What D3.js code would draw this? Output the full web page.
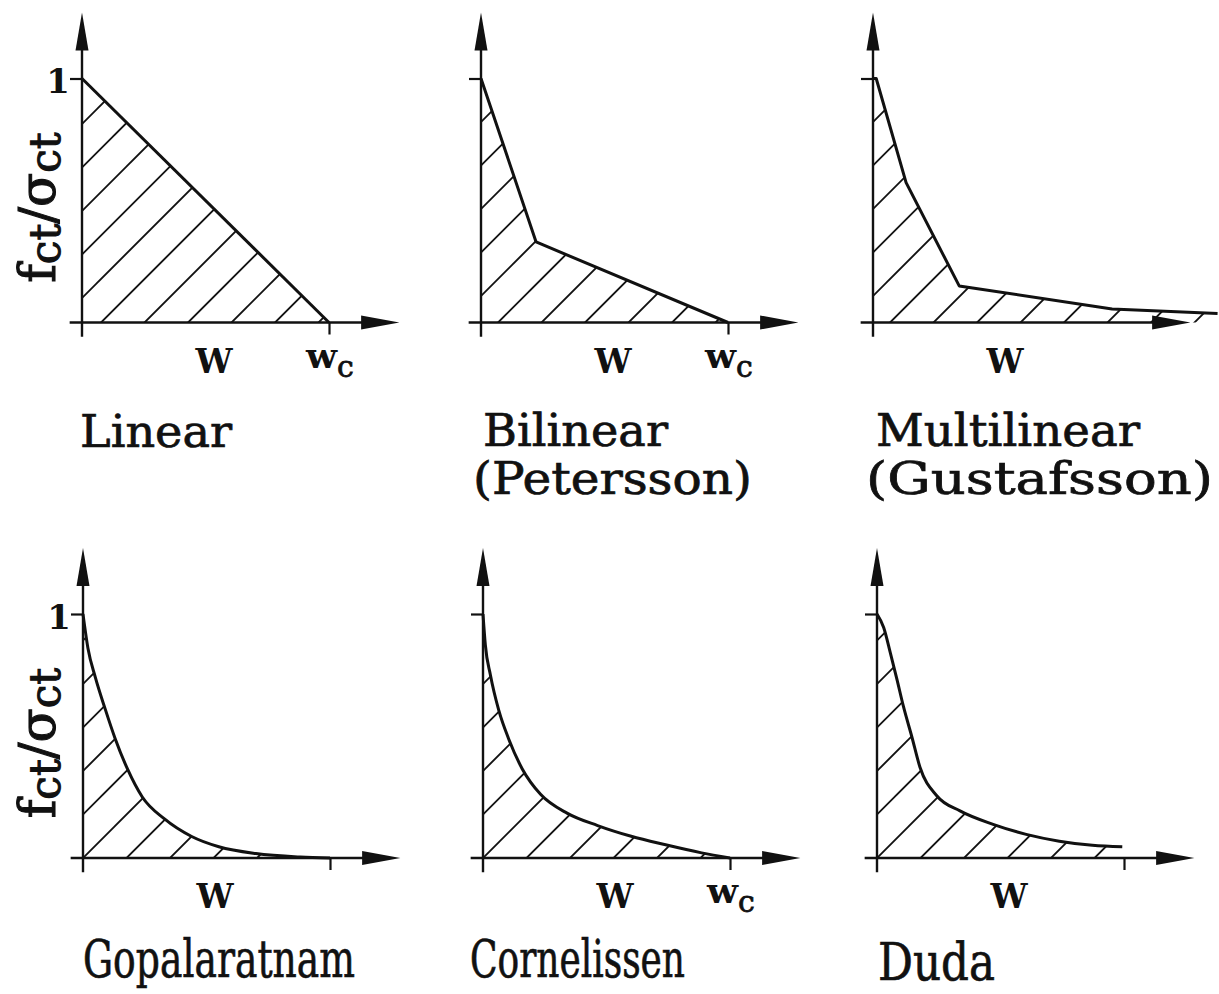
<!DOCTYPE html>
<html>
<head>
<meta charset="utf-8">
<script src="https://cdn.jsdelivr.net/npm/d3@7"></script>
<style>
  body { margin: 0; background: #fff; }
  svg { display: block; }
  text { font-family: "DejaVu Serif", "Liberation Serif", serif; fill: #111; }
</style>
</head>
<body>
<svg id="chart" width="1219" height="994"></svg>
<script>
// softening curves, w in units of wc, f in units of fct/sigma_ct
const linearW = [0, 1];
const linearF = [1, 0];

const bilinearW = [0, 0.223, 1];
const bilinearF = [1, 0.33, 0];

const multiW = [0, 0.013, 0.134, 0.349, 0.968, 1.395];
const multiF = [1, 1, 0.573, 0.150, 0.055, 0.037];

const gopalW = [0, 0.02, 0.05, 0.09, 0.13, 0.18, 0.24, 0.33, 0.44, 0.55, 0.70, 0.88, 1.0];
const gopalF = [1, 0.86, 0.74, 0.61, 0.49, 0.365, 0.25, 0.16, 0.088, 0.046, 0.018, 0.004, 0];

const cornW = [0, 0.0095, 0.030, 0.064, 0.104, 0.159, 0.233, 0.342, 0.464, 0.600, 0.735, 0.885, 1.0];
const cornF = [1, 0.873, 0.750, 0.605, 0.488, 0.365, 0.261, 0.183, 0.133, 0.089, 0.055, 0.021, 0];

const dudaW = [0, 0.027, 0.054, 0.081, 0.107, 0.141, 0.174, 0.242, 0.336, 0.470, 0.604, 0.738, 0.872, 0.993];
const dudaF = [1, 0.945, 0.841, 0.731, 0.621, 0.497, 0.372, 0.255, 0.193, 0.138, 0.097, 0.069, 0.052, 0.046];

const titleLines = [
    ["Linear"],
    ["Bilinear", "(Petersson)"],
    ["Multilinear", "(Gustafsson)"],
    ["Gopalaratnam"],
    ["Cornelissen"],
    ["Duda"]
];

const seriesW = [linearW, bilinearW, multiW, gopalW, cornW, dudaW];
const seriesF = [linearF, bilinearF, multiF, gopalF, cornF, dudaF];
const smooth = [false, false, false, true, true, true];

// where each panel sits on the page
const layout = [
    { x0: 82,  y0: 322.5, hatch: 19, one: true,  wcTick: true,  wcLabel: true,  tx: [80],       ty: [447],      tw: [152],      fs: 44 },
    { x0: 481, y0: 322.5, hatch: 17, one: false, wcTick: true,  wcLabel: true,  tx: [483, 473], ty: [446, 494], tw: [185, 279], fs: 44 },
    { x0: 873, y0: 322.5, hatch: 17, one: false, wcTick: false, wcLabel: false, tx: [876, 866], ty: [446, 494], tw: [264, 347], fs: 44 },
    { x0: 83,  y0: 858,   hatch: 0,  one: true,  wcTick: true,  wcLabel: false, tx: [83],       ty: [977],      tw: [272],      fs: 52 },
    { x0: 483, y0: 858,   hatch: 0,  one: false, wcTick: true,  wcLabel: true,  tx: [470],      ty: [977],      tw: [215],      fs: 52 },
    { x0: 877, y0: 858,   hatch: 0,  one: false, wcTick: true,  wcLabel: false, tx: [878],      ty: [980],      tw: [117],      fs: 52 }
];

const unitX = 247;
const unitY = 244;
const hatchStep = 43.5;

const svg = d3.select("#chart");
const defs = svg.append("defs");

layout.forEach((p, i) => {
    const x = d3.scaleLinear().domain([0, 1]).range([p.x0, p.x0 + unitX]);
    const y = d3.scaleLinear().domain([0, 1]).range([p.y0, p.y0 - unitY]);
    const g = svg.append("g");

    const pts = seriesW[i].map((w, j) => [w, seriesF[i][j]]);
    const curve = smooth[i] ? d3.curveMonotoneX : d3.curveLinear;

    // area used to clip the hatching
    const area = d3.area()
        .x(d => x(d[0]))
        .y0(y(0))
        .y1(d => y(d[1]))
        .curve(curve);

    const clipId = "clip-" + i;
    defs.append("clipPath").attr("id", clipId)
        .append("path").attr("d", area(pts));

    const hatch = g.append("g").attr("clip-path", `url(#${clipId})`);
    for (let k = -12; k <= 12; k++) {
        const c = p.x0 + p.hatch + k * hatchStep;
        hatch.append("line")
            .attr("x1", c - 450).attr("y1", p.y0 + 450)
            .attr("x2", c + 450).attr("y2", p.y0 - 450)
            .attr("stroke", "#111")
            .attr("stroke-width", 1.9);
    }

    // axis lines
    g.append("line")
        .attr("x1", x(0)).attr("y1", y(-0.058))
        .attr("x2", x(0)).attr("y2", y(1.2))
        .attr("stroke", "#111").attr("stroke-width", 2.4);
    g.append("line")
        .attr("x1", x(-0.05)).attr("y1", y(0))
        .attr("x2", x(1.24)).attr("y2", y(0))
        .attr("stroke", "#111").attr("stroke-width", 2.4);

    // arrow heads
    const tipY = y(1.27), baseY = y(1.115);
    g.append("path")
        .attr("d", `M${x(0)},${tipY} L${x(0) + 6.5},${baseY} L${x(0) - 6.5},${baseY} Z`)
        .attr("fill", "#111");
    const tipX = x(1.285), baseX = x(1.13);
    g.append("path")
        .attr("d", `M${tipX},${y(0)} L${baseX},${y(0) - 7} L${baseX},${y(0) + 7} Z`)
        .attr("fill", "#111");

    // tick at 1 on the y axis
    const yAxis = g.append("g")
        .attr("transform", `translate(${x(0)},0)`)
        .call(d3.axisLeft(y).tickValues([1]).tickSize(12).tickPadding(0)
            .tickFormat(d => p.one ? d : ""));
    yAxis.select(".domain").remove();
    yAxis.selectAll("line").attr("stroke", "#111").attr("stroke-width", 2.2);
    yAxis.selectAll("text")
        .attr("dy", "0.42em")
        .attr("x", -12)
        .style("font-family", "DejaVu Serif")
        .style("font-size", "34px")
        .style("font-weight", "bold")
        .style("fill", "#111");

    // tick at wc on the x axis
    if (p.wcTick) {
        const xAxis = g.append("g")
            .attr("transform", `translate(0,${y(0)})`)
            .call(d3.axisBottom(x).tickValues([1]).tickSize(12).tickFormat(""));
        xAxis.select(".domain").remove();
        xAxis.selectAll("line").attr("stroke", "#111").attr("stroke-width", 2.2);
    }

    // curve
    g.append("path")
        .datum(pts)
        .attr("d", d3.line().x(d => x(d[0])).y(d => y(d[1])).curve(curve))
        .attr("fill", "none")
        .attr("stroke", "#111")
        .attr("stroke-width", 3)
        .attr("stroke-linejoin", "round");

    // W label
    g.append("text")
        .attr("x", x(0.535)).attr("y", p.y0 + 50)
        .attr("text-anchor", "middle")
        .style("font-size", "33px")
        .style("font-weight", "bold")
        .text("W");

    if (p.wcLabel) {
        const wc = g.append("text")
            .attr("x", x(1) - 23).attr("y", p.y0 + 45)
            .style("font-size", "36px")
            .style("font-weight", "bold")
            .text("w");
        wc.append("tspan")
            .attr("dy", 9)
            .style("font-size", "30px")
            .style("font-weight", "normal")
            .style("stroke", "#111")
            .style("stroke-width", 0.8)
            .text("c");
    }

    // y label on the left column
    if (i === 0 || i === 3) {
        const lab = g.append("text")
            .attr("transform", `translate(55,${p.y0 - 115}) rotate(-90)`)
            .attr("text-anchor", "middle")
            .style("font-size", "50px")
            .style("stroke", "#111")
            .style("stroke-width", 1.1);
        lab.append("tspan").text("f");
        lab.append("tspan").attr("dy", 5).style("font-size", "42px").text("ct");
        lab.append("tspan").attr("dy", -5).text("/σ");
        lab.append("tspan").attr("dy", 5).style("font-size", "42px").text("ct");
    }

    // panel title
    titleLines[i].forEach((t, j) => {
        svg.append("text")
            .attr("x", p.tx[j]).attr("y", p.ty[j])
            .attr("textLength", p.tw[j])
            .attr("lengthAdjust", "spacingAndGlyphs")
            .style("font-size", p.fs + "px")
            .style("stroke", "#111")
            .style("stroke-width", 0.7)
            .text(t);
    });
});
</script>
</body>
</html>
